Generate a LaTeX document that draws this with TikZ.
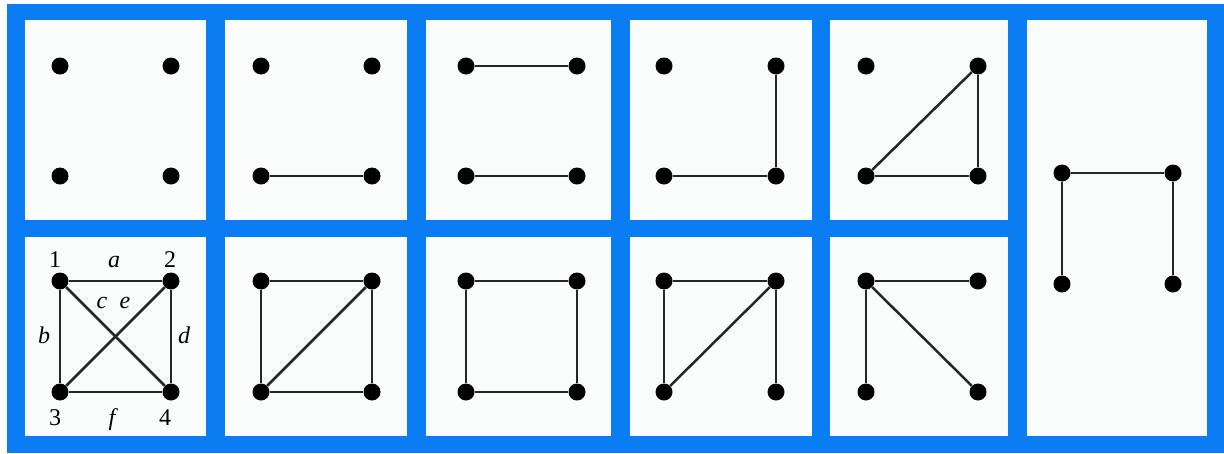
\documentclass[tikz,border=0pt]{standalone}
\usepackage{fontspec}
\setmainfont{Liberation Serif}
\usepackage{tikz}
\usetikzlibrary{positioning}
\definecolor{cframe}{HTML}{0A7DF2}
\definecolor{cpanel}{HTML}{FAFCFC}
\tikzset{
  panel/.style={fill=cpanel, draw=none},
  vtx/.style={circle, fill=black, draw=none, inner sep=0pt, minimum size=17pt},
  edg/.style={line width=2.5pt, draw=black!85},
  lbl/.style={font=\fontsize{24}{28}\selectfont, anchor=base, inner sep=0pt},
}
% four corner dots of one panel: prefix, left x, right x, top y, bottom y
\newcommand{\quaddots}[5]{%
  \node[vtx] (#1-1) at (#2,#4) {};
  \node[vtx] (#1-2) at (#3,#4) {};
  \node[vtx] (#1-3) at (#2,#5) {};
  \node[vtx] (#1-4) at (#3,#5) {};
}
\begin{document}
\begin{tikzpicture}[x=1pt,y=-1pt]
\useasboundingbox (0,0) rectangle (1224,453);
\fill[white] (0,0) rectangle (1224,453);
\fill[cframe] (7,4) rectangle (1224,453);
% panels
\foreach \l/\r in {25/206, 225/407, 426/611, 630/812, 830/1008}{
  \fill[panel] (\l,20) rectangle (\r,220);
  \fill[panel] (\l,237) rectangle (\r,436);
}
\fill[panel] (1027,20) rectangle (1207,436);
% top row
\quaddots{ta}{60}{171}{66}{176}
\quaddots{tb}{261}{372}{66}{176}
\quaddots{tc}{466}{577}{66}{176}
\quaddots{td}{664}{776}{66}{176}
\quaddots{te}{866}{978}{66}{176}
% bottom row
\quaddots{ba}{60}{171}{281}{392}
\quaddots{bb}{261}{372}{281}{392}
\quaddots{bc}{466}{577}{281}{392}
\quaddots{bd}{664}{776}{281}{392}
\quaddots{be}{866}{978}{281}{392}
% tall panel
\quaddots{tall}{1062}{1173}{173}{284}
% edges
\foreach \p/\u/\v in {tb/3/4, tc/1/2, tc/3/4, td/3/4, td/2/4, te/3/4, te/2/4, te/3/2,
  ba/1/2, ba/1/3, ba/1/4, ba/2/4, ba/2/3, ba/3/4,
  bb/1/2, bb/1/3, bb/3/4, bb/2/4, bb/3/2,
  bc/1/2, bc/2/4, bc/4/3, bc/3/1,
  bd/1/2, bd/1/3, bd/2/4, bd/3/2,
  be/1/2, be/1/3, be/1/4,
  tall/1/2, tall/1/3, tall/2/4}{
  \draw[edg] (\p-\u) -- (\p-\v);
}
% labels of the complete graph
\node[lbl] (n1) at (55,267) {1};
\node[lbl] (n2) at (170,267) {2};
\node[lbl] (n3) at (55,425) {3};
\node[lbl] (n4) at (165,425) {4};
\node[lbl] (ea) at (114,267) {\itshape a};
\node[lbl] (eb) at (44,343) {\itshape b};
\node[lbl] (ec) at (102,308) {\itshape c};
\node[lbl] (ee) at (125,308) {\itshape e};
\node[lbl] (ed) at (184,343) {\itshape d};
\node[lbl] (ef) at (112,425) {\itshape f};
\end{tikzpicture}
\end{document}
